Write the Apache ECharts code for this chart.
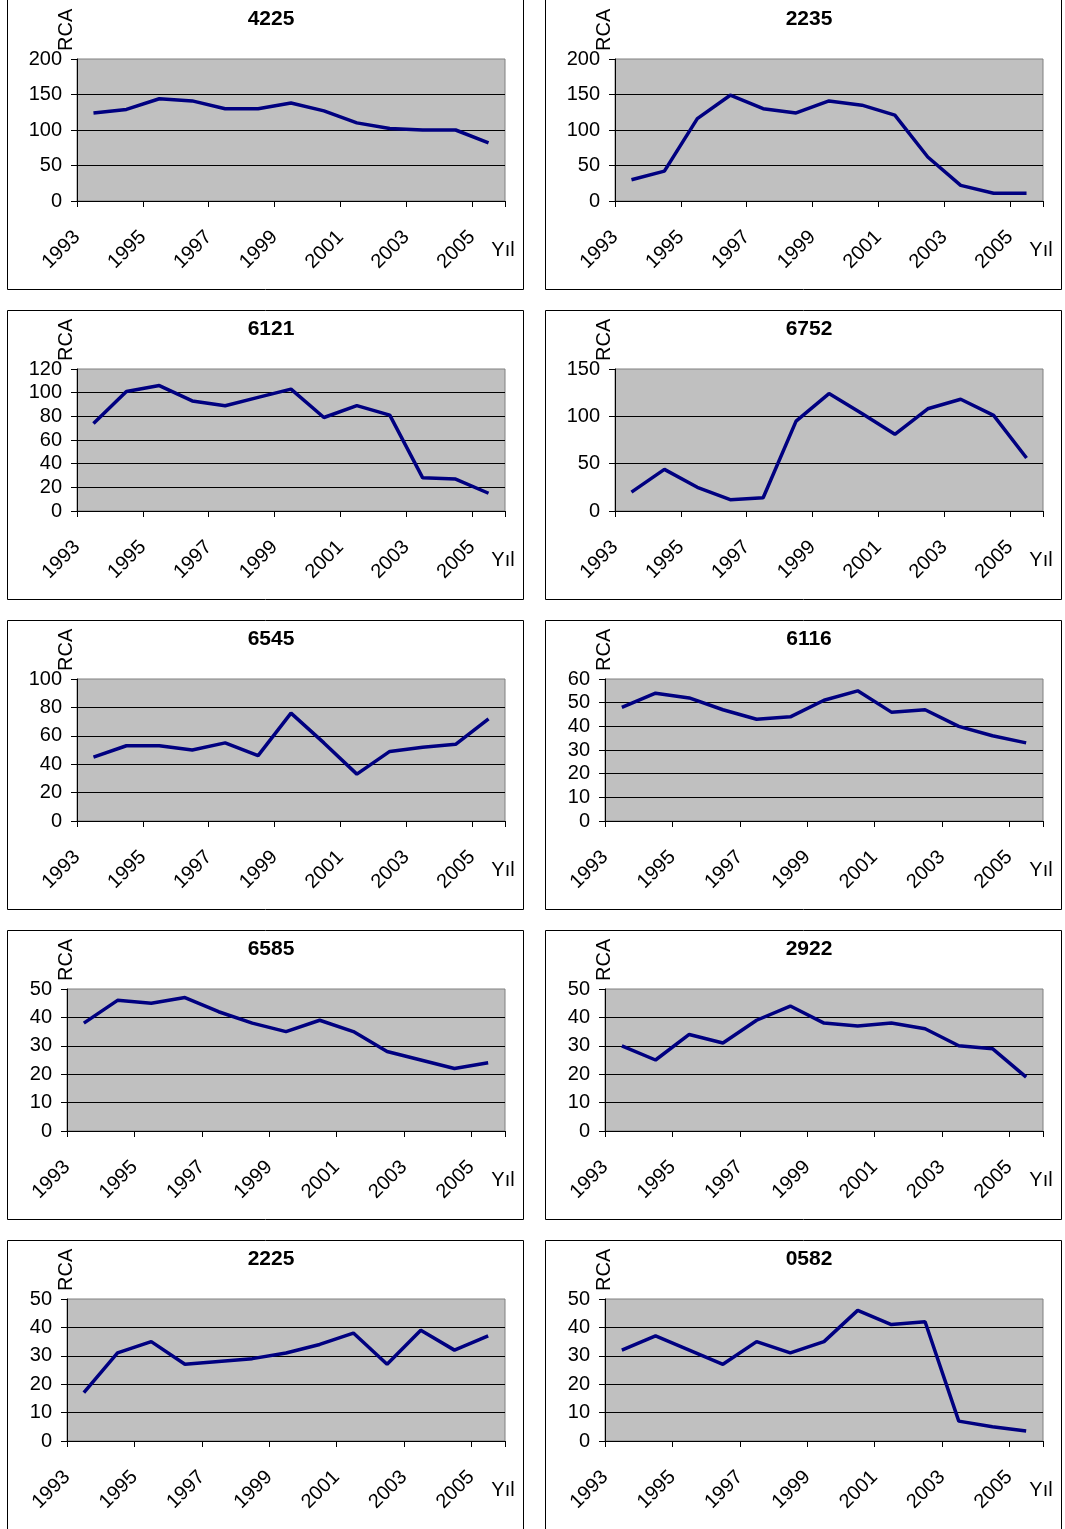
<!DOCTYPE html>
<html><head><meta charset="utf-8">
<script src="https://cdn.jsdelivr.net/npm/echarts@6/dist/echarts.min.js"></script>
<style>html,body{margin:0;padding:0;background:#fff}#c{width:1065px;height:1529px}</style>
</head><body><div id="c"></div>
<script>
// ---- data ----
const years = ['1993','1994','1995','1996','1997','1998','1999','2000','2001','2002','2003','2004','2005'];
const panelTitles = ['4225','2235','6121','6752','6545','6116','6585','2922','2225','0582'];
const rca4225 = [124,129,144,141,130,130,138,127,110,102,100,100,82];
const rca2235 = [30,42,116,149,130,124,141,135,121,62,22,11,11];
const rca6121 = [74,101,106,93,89,96,103,79,89,81,28,27,15];
const rca6752 = [20,44,25,12,14,95,124,103,81,108,118,101,56];
const rca6545 = [45,53,53,50,55,46,76,55,33,49,52,54,72];
const rca6116 = [48,54,52,47,43,44,51,55,46,47,40,36,33];
const rca6585 = [38,46,45,47,42,38,35,39,35,28,25,22,24];
const rca2922 = [30,25,34,31,39,44,38,37,38,36,30,29,19];
const rca2225 = [17,31,35,27,28,29,31,34,38,27,39,32,37];
const rca0582 = [32,37,32,27,35,31,35,46,41,42,7,5,3.5];
const yMax  = [200,200,120,150,100,60,50,50,50,50];
const yStep = [50,50,20,50,20,10,10,10,10,10];
const yName = 'RCA';
const xName = 'Yıl';

const seriesValues = [rca4225, rca2235, rca6121, rca6752, rca6545, rca6116, rca6585, rca2922, rca2225, rca0582];

// ---- layout ----
const FONT = '"Liberation Sans", Arial, sans-serif';
const FS = 20;
const colX = [7, 545], rowY = [0, 310, 620, 930, 1240], PW = 516, PH = 289;

const grids = [], xAxes = [], yAxes = [], series = [], graphics = [];
seriesValues.forEach((vals, i) => {
  const col = i % 2, row = Math.floor(i / 2);
  const px = colX[col], py = rowY[row];
  const leftOff = String(yMax[i]).length >= 3 ? 70 : 60;
  grids.push({left: px + leftOff, top: py + 59, width: 498 - leftOff, height: 142,
    show: true, backgroundColor: '#C0C0C0', borderColor: '#808080', borderWidth: 1});
  xAxes.push({type: 'category', gridIndex: i, data: years, boundaryGap: true,
    axisLine: {show: true, lineStyle: {color: '#000', width: 1}},
    axisTick: {show: true, length: 6, lineStyle: {color: '#000'}},
    axisLabel: {show: false}, splitLine: {show: false}});
  xAxes.push({type: 'value', gridIndex: i, position: 'bottom', min: 0, max: years.length, interval: 1,
    axisLine: {show: false}, axisTick: {show: false}, splitLine: {show: false},
    axisLabel: {rotate: 45, margin: 33, fontSize: FS, fontFamily: FONT, color: '#000',
      showMaxLabel: false,
      formatter: v => (v % 2 === 0 && v < years.length) ? years[v] : ''}});
  yAxes.push({type: 'value', gridIndex: i, min: 0, max: yMax[i], interval: yStep[i],
    axisLine: {show: true, lineStyle: {color: '#000', width: 1}},
    axisTick: {show: true, length: 6, lineStyle: {color: '#000'}},
    splitLine: {show: true, showMinLine: false, showMaxLine: false, lineStyle: {color: '#000', width: 1}},
    axisLabel: {fontSize: FS, fontFamily: FONT, color: '#000', margin: 15, padding: [0, 0, 3, 0]}});
  series.push({type: 'line', xAxisIndex: 2 * i, yAxisIndex: i, data: vals,
    showSymbol: false, symbol: 'none', lineStyle: {color: '#000080', width: 3.5},
    itemStyle: {color: '#000080'}, animation: false, z: 3});
  // panel frame
  graphics.push({type: 'rect', silent: true,
    shape: {x: px + 0.5, y: row === 0 ? -1.5 : py + 0.5, width: PW, height: row === 0 ? PH + 2 : PH},
    style: {fill: 'none', stroke: '#000', lineWidth: 1}});
  // title
  graphics.push({type: 'text', x: px + 264, y: py + 19,
    style: {text: panelTitles[i], align: 'center', verticalAlign: 'middle',
      font: 'bold 21px ' + FONT, fill: '#000'}});
  // y name
  graphics.push({type: 'text', x: px + 59, y: py + 51, rotation: Math.PI / 2,
    style: {text: yName, align: 'left', verticalAlign: 'middle',
      font: FS + 'px ' + FONT, fill: '#000'}});
  // x name
  graphics.push({type: 'text', x: px + 496, y: py + 250,
    style: {text: xName, align: 'center', verticalAlign: 'middle',
      font: FS + 'px ' + FONT, fill: '#000'}});
});

const chart = echarts.init(document.getElementById('c'), null, {renderer: 'canvas'});
chart.setOption({
  animation: false,
  backgroundColor: '#fff',
  grid: grids, xAxis: xAxes, yAxis: yAxes, series: series,
  graphic: graphics
});
</script>
</body></html>
